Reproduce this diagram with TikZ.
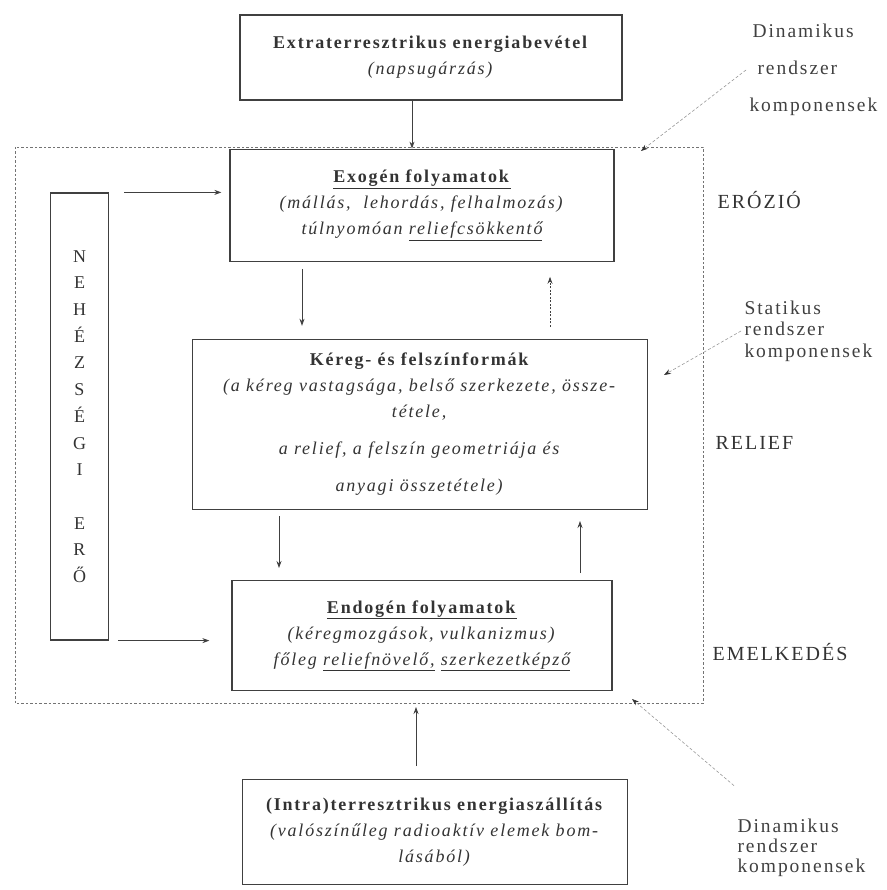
\documentclass[tikz,border=0pt]{standalone}
\usepackage{fontspec}
\setmainfont{Liberation Serif}[LetterSpace=10]
\usepackage{tikz}
\usetikzlibrary{arrows.meta,positioning}

\begin{document}
\begin{tikzpicture}[
    x=1pt, y=-1pt,
    font=\fontsize{18}{26}\selectfont,
    box/.style={
        draw=black!75,
        line width=1.2pt,
        align=center,
        inner sep=4pt,
        text=black!80
    },
    arr/.style={-{Stealth[length=7pt,width=5pt]}, line width=0.8pt, black!75},
    dotarr/.style={arr, dash pattern=on 2pt off 1.5pt},
    hint/.style={-{Stealth[length=7pt,width=5pt,color=black!80]}, densely dashed, line width=0.6pt, black!40},
    frame/.style={dash pattern=on 2.5pt off 2pt, line width=0.9pt, black!55},
    side/.style={anchor=west, text=black!80, font=\fontsize{20}{24}\selectfont},
    note/.style={anchor=west, align=left, text=black!75}
]
    \useasboundingbox (0,0) rectangle (886,890);

    %% Energiaforrasok es folyamatok
    \node[box, minimum width=382pt, minimum height=85pt] (ext) at (431,57.5)
        {\textbf{Extraterresztrikus energiabevétel}\\\textit{(napsugárzás)}};
    \node[box, minimum width=384pt, minimum height=112pt, below=48pt of ext, xshift=-9pt] (exo)
        {\underline{\textbf{Exogén folyamatok}}\\
         \textit{(mállás,\ \ lehordás, felhalmozás)}\\
         \textit{túlnyomóan \underline{reliefcsökkentő}}};
    \node[box, minimum width=455pt, minimum height=170pt, below=77pt of exo, xshift=-2pt] (ker)
        {\textbf{Kéreg- és felszínformák}\\
         \textit{(a kéreg vastagsága, belső szerkezete, össze-}\\
         \textit{tétele,}\\[11pt]
         \textit{a relief, a felszín geometriája és}\\[11pt]
         \textit{anyagi összetétele)}};
    \node[box, minimum width=380pt, minimum height=110pt, below=70pt of ker, xshift=2pt] (endo)
        {\underline{\textbf{Endogén folyamatok}}\\
         \textit{(kéregmozgások, vulkanizmus)}\\
         \textit{főleg \underline{reliefnövelő,} \underline{szerkezetképző}}};
    \node[box, minimum width=385pt, minimum height=105pt, below=88pt of endo, xshift=13pt] (intra)
        {\textbf{(Intra)terresztrikus energiaszállítás}\\
         \textit{(valószínűleg radioaktív elemek bom-}\\
         \textit{lásából)}};

    %% Nehezsegi ero
    \node[box, minimum width=58pt, minimum height=447pt, font=\fontsize{18}{26.7}\selectfont] (neh) at (79.5,416.5)
        {N\\E\\H\\É\\Z\\S\\É\\G\\I\\[26.7pt]E\\R\\Ő};

    %% Rendszer kerete
    \draw[frame] (15,147) rectangle (703,703);
    \coordinate (frameIn) at (416,707);

    %% Oldalso feliratok
    \node[side] (ero) at (714,200) {ERÓZIÓ};
    \node[side] (rel) at (712,443) {RELIEF};
    \node[side] (eme) at (709,652) {EMELKEDÉS};
    \node[note, font=\fontsize{19.5}{37}\selectfont] (dynTop) at (746,70)
        {\hspace{3pt}Dinamikus\\\hspace{8pt}rendszer\\komponensek};
    \node[note, font=\fontsize{19.5}{21.5}\selectfont] (stat) at (741,331)
        {Statikus\\rendszer\\komponensek};
    \node[note, font=\fontsize{19.5}{20}\selectfont] (dynBot) at (734,848)
        {Dinamikus\\rendszer\\komponensek};
    \coordinate (tipA) at (641,151);
    \coordinate (tipS) at (664,375);
    \coordinate (tipB) at (632,699);

    %% Nyilak
    \draw[arr] ([xshift=-19pt]ext.south) -- ([xshift=-19pt]ext.south |- exo.north);
    \draw[arr, shorten <=15pt, shorten >=8pt] (neh.north east) -- (neh.north east -| exo.west);
    \draw[arr, shorten <=9pt, shorten >=22pt] (neh.south east) -- (neh.south east -| endo.west);
    \draw[arr, shorten <=7pt, shorten >=13pt] ([xshift=-120pt]exo.south) -- ([xshift=-120pt]exo.south |- ker.north);
    \draw[dotarr, shorten <=12pt, shorten >=15pt] ([xshift=130pt]ker.north) -- ([xshift=130pt]ker.north |- exo.south);
    \draw[arr, shorten <=6pt, shorten >=12pt] ([xshift=-141pt]ker.south) -- ([xshift=-141pt]ker.south |- endo.north);
    \draw[arr, shorten <=7pt, shorten >=11pt] ([xshift=158pt]endo.north) -- ([xshift=158pt]endo.north |- ker.south);
    \draw[arr, shorten <=13pt] (intra.north -| frameIn) -- (frameIn);
    \draw[hint] (dynTop.west) -- (tipA);
    \draw[hint] (stat.west) -- (tipS);
    \draw[hint] ([yshift=30pt]dynBot.north west) -- (tipB);
\end{tikzpicture}
\end{document}
